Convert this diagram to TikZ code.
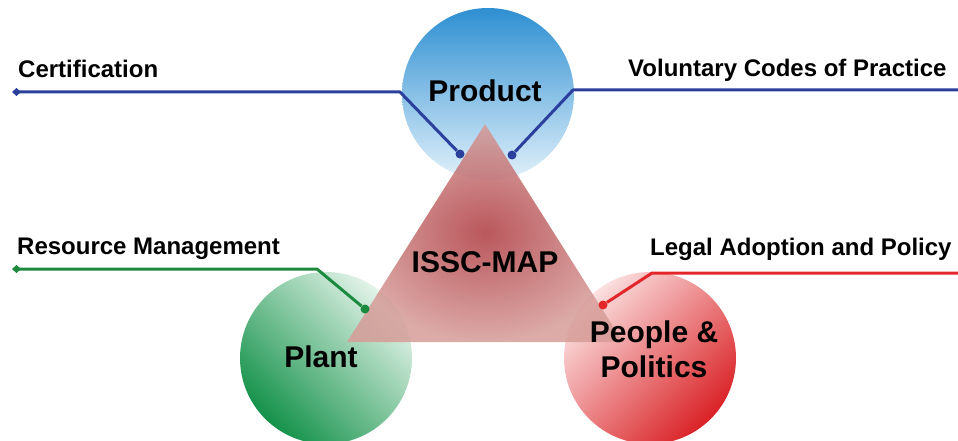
\documentclass[tikz,border=0pt]{standalone}
\usepackage{fontspec}
\setmainfont{Liberation Sans}
\usetikzlibrary{arrows.meta}
\definecolor{prodblue}{HTML}{2E8FD2}
\definecolor{prodlight}{HTML}{E2F1FB}
\definecolor{plantgreen}{HTML}{14924A}
\definecolor{plantlight}{HTML}{E4F4EA}
\definecolor{polred}{HTML}{DA2226}
\definecolor{pollight}{HTML}{FBE0E0}
\definecolor{lineblue}{HTML}{2B3F9C}
\definecolor{linegreen}{HTML}{1C8A3E}
\definecolor{linered}{HTML}{E2262A}
\definecolor{mapdark}{HTML}{AE3A40}
\definecolor{maplight}{HTML}{D69C98}
\tikzset{
  lbl/.style={anchor=base west,inner sep=0pt,font=\bfseries\fontsize{24}{28}\selectfont},
  ttl/.style={anchor=base,inner sep=0pt,align=center,font=\bfseries\fontsize{30}{35}\selectfont},
  link/.style={line width=3pt,line join=round},
  tip/.style={fill,circle,inner sep=0pt,minimum size=9pt},
  diam/.style={{Diamond[length=9pt,width=8pt]}-}
}

\begin{document}
\begin{tikzpicture}[x=1pt,y=-1pt]
    \useasboundingbox (0,0) rectangle (958,441);

    % Circles
    \shade[top color=prodblue,bottom color=prodlight] (488,94) circle (86);
    \shade[top color=plantlight,bottom color=plantgreen,shading angle=-45] (326,358) circle (86);
    \shade[top color=pollight,bottom color=polred,shading angle=45] (650,358) circle (86);

    % Triangle
    \shade[inner color=mapdark,outer color=maplight,fill opacity=0.85] (485,124) -- (623,342) -- (347,342) -- cycle;

    % Dots
    \node[tip,lineblue] (certdot) at (460,154) {};
    \node[tip,lineblue] (voldot) at (512,155) {};
    \node[tip,linegreen] (resdot) at (365,309) {};
    \node[tip,linered] (legaldot) at (603,305) {};

    \coordinate (certend) at (12,92);
    \coordinate (certbend) at (400,92);
    \coordinate (volbend) at (573,90);
    \coordinate (volend) at (958,90);
    \coordinate (resend) at (12,269);
    \coordinate (resbend) at (317,269);
    \coordinate (legalbend) at (652,273);
    \coordinate (legalend) at (958,273);

    \draw[link,lineblue,diam] (certend) -- (certbend) -- (certdot);
    \draw[link,lineblue] (voldot) -- (volbend) -- (volend);
    \draw[link,linegreen,diam] (resend) -- (resbend) -- (resdot);
    \draw[link,linered] (legaldot) -- (legalbend) -- (legalend);

    % Labels
    \node[ttl] (product) at (485,102) {Product};
    \node[ttl] (plant) at (321,367) {Plant};
    \node[ttl] (people) at (654,377) {People \&\\Politics};
    \node[ttl] (map) at (485,272) {ISSC-MAP};

    \node[lbl] (cert) at (18,78) {Certification};
    \node[lbl] (vol) at (628,77) {Voluntary Codes of Practice};
    \node[lbl] (res) at (17,254) {Resource Management};
    \node[lbl] (legal) at (650,255) {Legal Adoption and Policy};
\end{tikzpicture}
\end{document}
